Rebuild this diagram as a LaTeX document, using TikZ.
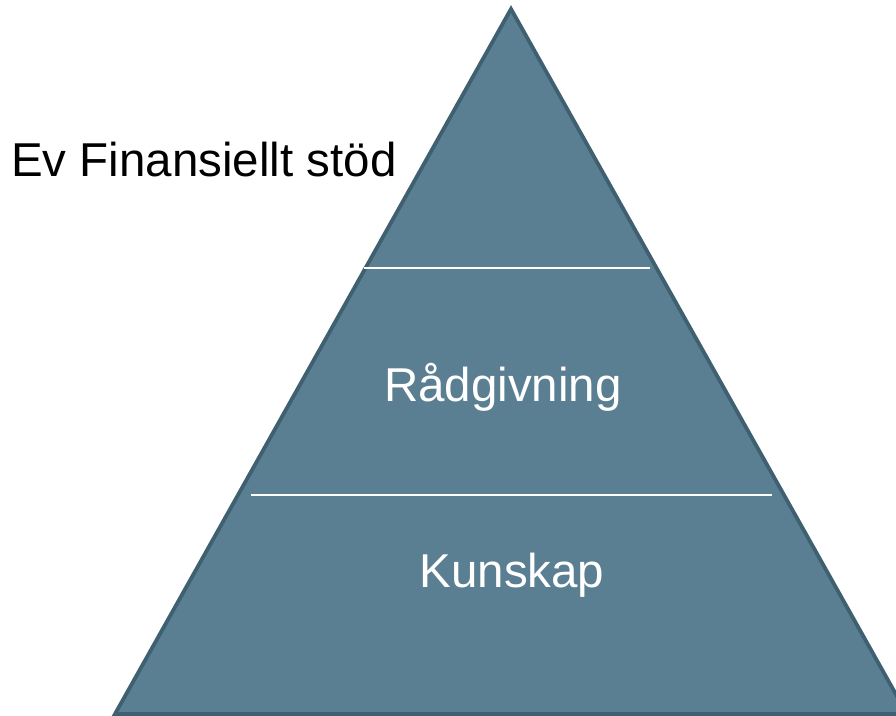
\documentclass[tikz,border=0pt]{standalone}
\usepackage{fontspec}
\setmainfont{Liberation Sans}
\definecolor{pyrfill}{HTML}{5B7F92}
\definecolor{pyredge}{HTML}{3F6070}
\tikzset{
  lbl/.style={inner sep=0pt, font=\fontsize{47.5}{57}\selectfont},
  divider/.style={draw=white, line width=1.8pt},
}
\begin{document}
\begin{tikzpicture}[x=1pt,y=-1pt]
\useasboundingbox (0,0) rectangle (896,715);
\begin{scope}
\clip (0,0) rectangle (896,715);
\coordinate (apex) at (511,9);
\coordinate (bl) at (115,714);
\coordinate (br) at (907,714);
\filldraw[fill=pyrfill, draw=pyredge, line width=3.8pt, line join=miter] (apex) -- (br) -- (bl) -- cycle;
\end{scope}
\coordinate (d1l) at (364,268);
\coordinate (d1r) at (650,268);
\coordinate (d2l) at (251,495);
\coordinate (d2r) at (772,495);
\draw[divider] (d1l) -- (d1r);
\draw[divider] (d2l) -- (d2r);
\node[lbl, anchor=base west, text=black] (fin) at (11,176) {Ev Finansiellt stöd};
\node[lbl, anchor=base, text=white] (rad) at (503,401) {Rådgivning};
\node[lbl, anchor=base, text=white] (kun) at (512,587) {Kunskap};
\end{tikzpicture}
\end{document}
